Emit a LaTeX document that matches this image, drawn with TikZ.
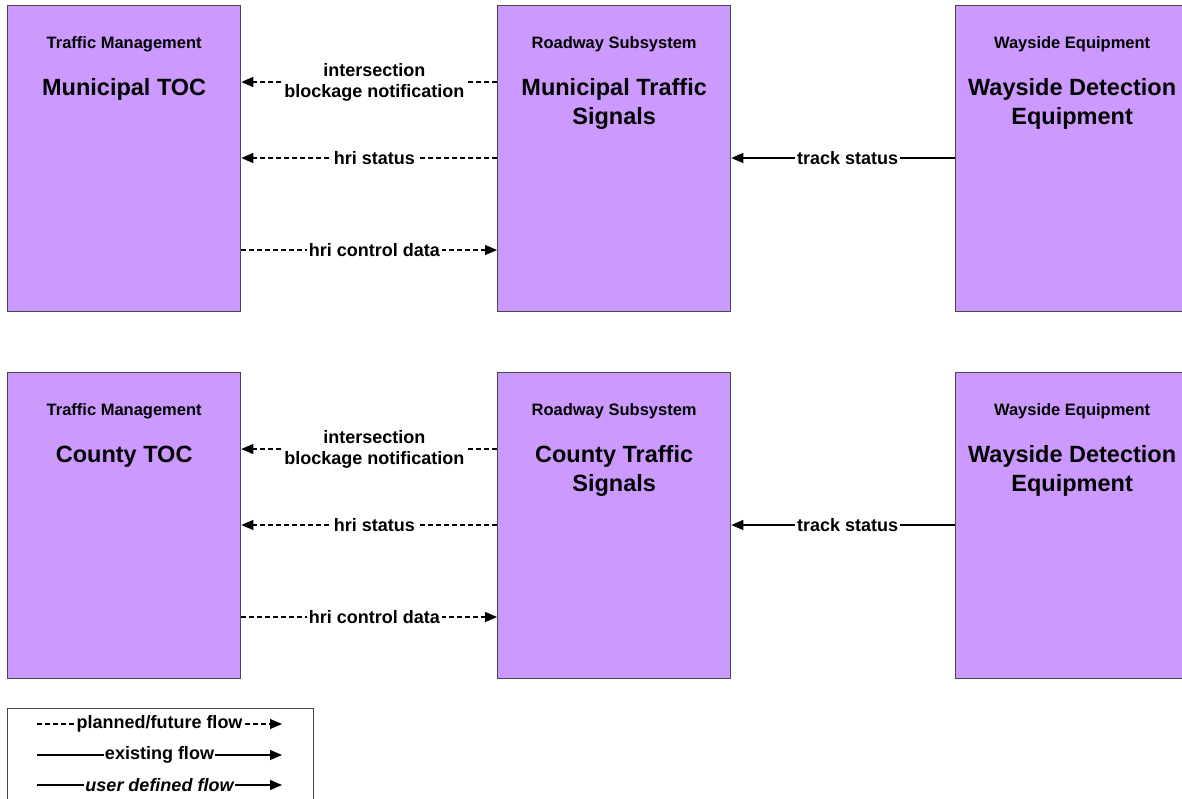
\documentclass[tikz,border=0pt]{standalone}
\usepackage{fontspec}
\setmainfont{Liberation Sans}
\usetikzlibrary{arrows.meta,calc}
\definecolor{boxfill}{HTML}{CC99FF}
\definecolor{boxline}{HTML}{484848}
\begin{document}
\begin{tikzpicture}[x=1pt,y=-1pt,
  sysbox/.style={draw=boxline, line width=1.3pt, fill=boxfill,
    minimum width=233pt, minimum height=306pt, anchor=north west, inner sep=0pt},
  classlbl/.style={font=\fontsize{16.5}{20}\selectfont\bfseries, anchor=base, inner sep=0pt},
  titlelbl/.style={font=\fontsize{23.5}{29}\selectfont\bfseries, align=center, anchor=base, inner sep=0pt},
  flowlbl/.style={font=\fontsize{18}{21}\selectfont\bfseries, fill=white, inner sep=2pt, align=center},
  planned/.style={line width=1.2pt, dash pattern=on 5pt off 3pt},
  existing/.style={line width=1.2pt},
  flowtip/.style={-{Triangle[length=12pt,width=10pt]}}
]
\useasboundingbox (0,0) rectangle (1182,798);

% ---- upper row: municipal system ----
\node[sysbox] (mtoc) at (7,5) {};
\node[sysbox] (msig) at (497,5) {};
\node[sysbox] (mway) at (955,5) {};

% one-line titles sit on baseline +90, two-line titles end on baseline +119
\node[classlbl] (mtocc) at ($(mtoc.north)+(0,43)$) {Traffic Management};
\node[titlelbl] (mtoct) at ($(mtoc.north)+(0,90)$) {Municipal TOC};
\node[classlbl] (msigc) at ($(msig.north)+(0,43)$) {Roadway Subsystem};
\node[titlelbl] (msigt) at ($(msig.north)+(0,119)$) {Municipal Traffic\\Signals};
\node[classlbl] (mwayc) at ($(mway.north)+(0,43)$) {Wayside Equipment};
\node[titlelbl] (mwayt) at ($(mway.north)+(0,119)$) {Wayside Detection\\Equipment};

\draw[planned, flowtip] ($(msig.north west)+(0,77)$) --
  node[flowlbl, pos=0.48] (m1) {intersection\\blockage notification}
  ($(mtoc.north east)+(0,77)$);
\draw[planned, flowtip] ($(msig.north west)+(0,153)$) --
  node[flowlbl, pos=0.48] (m2) {hri status}
  ($(mtoc.north east)+(0,153)$);
\draw[planned, flowtip] ($(mtoc.north east)+(0,245)$) --
  node[flowlbl, pos=0.52] (m3) {hri control data}
  ($(msig.north west)+(0,245)$);
\draw[existing, flowtip] ($(mway.north west)+(0,153)$) --
  node[flowlbl, pos=0.48] (m4) {track status}
  ($(msig.north east)+(0,153)$);

% ---- lower row: county system ----
\node[sysbox] (ctoc) at (7,372) {};
\node[sysbox] (csig) at (497,372) {};
\node[sysbox] (cway) at (955,372) {};

\node[classlbl] (ctocc) at ($(ctoc.north)+(0,43)$) {Traffic Management};
\node[titlelbl] (ctoct) at ($(ctoc.north)+(0,90)$) {County TOC};
\node[classlbl] (csigc) at ($(csig.north)+(0,43)$) {Roadway Subsystem};
\node[titlelbl] (csigt) at ($(csig.north)+(0,119)$) {County Traffic\\Signals};
\node[classlbl] (cwayc) at ($(cway.north)+(0,43)$) {Wayside Equipment};
\node[titlelbl] (cwayt) at ($(cway.north)+(0,119)$) {Wayside Detection\\Equipment};

\draw[planned, flowtip] ($(csig.north west)+(0,77)$) --
  node[flowlbl, pos=0.48] (c1) {intersection\\blockage notification}
  ($(ctoc.north east)+(0,77)$);
\draw[planned, flowtip] ($(csig.north west)+(0,153)$) --
  node[flowlbl, pos=0.48] (c2) {hri status}
  ($(ctoc.north east)+(0,153)$);
\draw[planned, flowtip] ($(ctoc.north east)+(0,245)$) --
  node[flowlbl, pos=0.52] (c3) {hri control data}
  ($(csig.north west)+(0,245)$);
\draw[existing, flowtip] ($(cway.north west)+(0,153)$) --
  node[flowlbl, pos=0.48] (c4) {track status}
  ($(csig.north east)+(0,153)$);

% ---- legend ----
\node[draw=boxline, line width=1pt, minimum width=306pt, minimum height=100pt,
  anchor=north west, inner sep=0pt] (legend) at (7,708) {};
\coordinate (la1) at ($(legend.north west)+(30,16)$);
\coordinate (lb1) at ($(legend.north west)+(275,16)$);
\coordinate (la2) at ($(legend.north west)+(30,47)$);
\coordinate (lb2) at ($(legend.north west)+(275,47)$);
\coordinate (la3) at ($(legend.north west)+(30,77)$);
\coordinate (lb3) at ($(legend.north west)+(275,77)$);
\draw[planned, flowtip] (la1) -- node[flowlbl, pos=0.5, inner sep=1pt] (lg1) {planned/future flow} (lb1);
\draw[existing, flowtip] (la2) -- node[flowlbl, pos=0.5, inner sep=1pt] (lg2) {existing flow} (lb2);
\draw[existing, flowtip] (la3) -- node[flowlbl, pos=0.5, inner sep=1pt] (lg3) {\itshape user defined flow} (lb3);
\end{tikzpicture}
\end{document}
